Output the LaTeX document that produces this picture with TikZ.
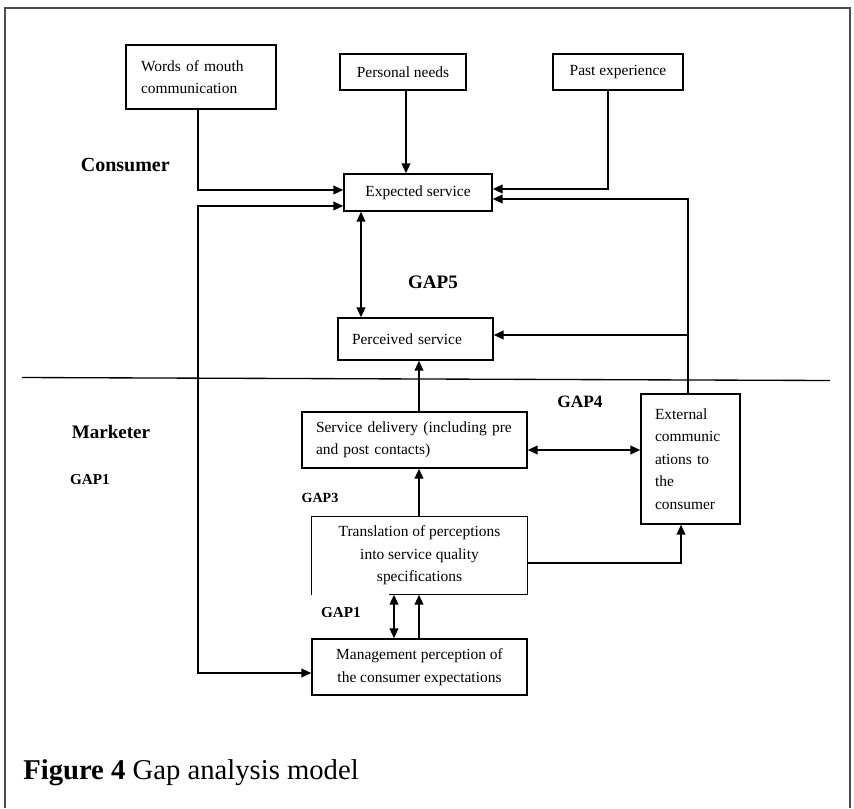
\documentclass[tikz,border=0pt]{standalone}
\usepackage{fontspec}
\setmainfont{Liberation Serif}
\usetikzlibrary{arrows.meta}
\begin{document}
\begin{tikzpicture}[x=0.75pt,y=-0.75pt,
  box/.style={draw,line width=1pt,inner sep=0pt,font=\fontsize{11.6}{16.8}\selectfont},
  conn/.style={line width=1.3pt,-{Triangle[length=7.5pt,width=6.5pt]}},
  both/.style={line width=1.3pt,{Triangle[length=7.5pt,width=6.5pt]}-{Triangle[length=7.5pt,width=6.5pt]}},
  lbl/.style={inner sep=0pt}]
\useasboundingbox (0,0) rectangle (854,808);
% frame
\draw[gray!60!black, line width=0.8pt] (5,808) -- (5,8) -- (850,8) -- (850,808);
% boxes
\node[box, minimum width=150*0.75pt, minimum height=64*0.75pt, text width=120*0.75pt, align=left] (wom) at (201,77) {Words of mouth\\communication};
\node[box, minimum width=126*0.75pt, minimum height=36*0.75pt] (pn) at (403,72) {Personal needs};
\node[box, minimum width=130*0.75pt, minimum height=36*0.75pt] (pe) at (618,72) {Past experience};
\node[box, minimum width=148*0.75pt, minimum height=37*0.75pt] (es) at (418,192.5) {Expected service};
\node[box, minimum width=155*0.75pt, minimum height=42*0.75pt, text width=127*0.75pt, align=left] (ps) at (415.5,339) {Perceived service};
\node[box, minimum width=225*0.75pt, minimum height=56*0.75pt, text width=197*0.75pt, align=left] (sd) at (414.5,440) {Service delivery (including pre\\and post contacts)};
\node[box, draw=none, minimum width=215*0.75pt, minimum height=77*0.75pt, align=center] (tr) at (419.5,555.5) {Translation of perceptions\\into service quality\\specifications};
\draw[line width=1pt] (tr.south west) -- (tr.north west) -- (tr.north east) -- (tr.south east) -- ++(-139,0);
\node[box, minimum width=215*0.75pt, minimum height=56*0.75pt, align=center] (mg) at (419.5,667) {Management perception of\\the consumer expectations};
\node[box, minimum width=99*0.75pt, minimum height=130*0.75pt, text width=71*0.75pt, align=left] (ec) at (690.5,459) {External\\communic\\ations to\\the\\consumer};
% separator
\draw[line width=1pt] (22,377.5) -- (830,380.5);
% labels
\node[lbl, font=\bfseries\fontsize{15}{18}\selectfont, anchor=east] (consumer) at (170,165) {Consumer};
\node[lbl, font=\bfseries\fontsize{14.3}{18}\selectfont] (gap5) at (433,282) {GAP5};
\node[lbl, font=\bfseries\fontsize{14.3}{18}\selectfont] (marketer) at (111,432) {Marketer};
\node[lbl, font=\bfseries\fontsize{11.4}{14}\selectfont] (gap1a) at (90,480) {GAP1};
\node[lbl, font=\bfseries\fontsize{13}{16}\selectfont] (gap4) at (580,402) {GAP4};
\node[lbl, font=\bfseries\fontsize{10.5}{13}\selectfont] (gap3) at (320,498) {GAP3};
\node[lbl, font=\bfseries\fontsize{11.4}{14}\selectfont] (gap1b) at (341,613) {GAP1};
\node[lbl, anchor=west, font=\fontsize{21.5}{25}\selectfont] (cap) at (23,773) {\textbf{Figure 4} Gap analysis model};
% connectors
\coordinate (womdown) at (198,190);
\draw[conn] (wom.south -| womdown) -- (womdown) -- (womdown -| es.west);
\coordinate (pnx) at (406,0);
\draw[conn] (pn.south -| pnx) -- (es.north -| pnx);
\coordinate (pebend) at (608,189);
\draw[conn] (pe.south -| pebend) -- (pebend) -- (pebend -| es.east);
\coordinate (ecbend) at (688,199);
\coordinate (ecbr) at (688,335);
\draw[conn] (ec.north -| ecbend) -- (ecbend) -- (ecbend -| es.east);
\draw[conn] (ecbr) -- (ecbr -| ps.east);
\coordinate (g5x) at (361,0);
\draw[both] (es.south -| g5x) -- (ps.north -| g5x);
\coordinate (cx) at (419,0);
\draw[conn] (sd.north -| cx) -- (ps.south -| cx);
\draw[conn] (tr.north -| cx) -- (sd.south -| cx);
\draw[conn] (mg.north -| cx) -- (tr.south -| cx);
\coordinate (g1x) at (394,0);
\draw[both] (mg.north -| g1x) -- (tr.south -| g1x);
\coordinate (g4y) at (0,450);
\draw[both] (sd.east |- g4y) -- (ec.west |- g4y);
\coordinate (trb) at (681,563);
\draw[conn] (tr.east |- trb) -- (trb) -- (ec.south -| trb);
\coordinate (l1) at (198,206);
\coordinate (l2) at (198,673);
\draw[both] (es.west |- l1) -- (l1) -- (l2) -- (mg.west |- l2);
\end{tikzpicture}
\end{document}
